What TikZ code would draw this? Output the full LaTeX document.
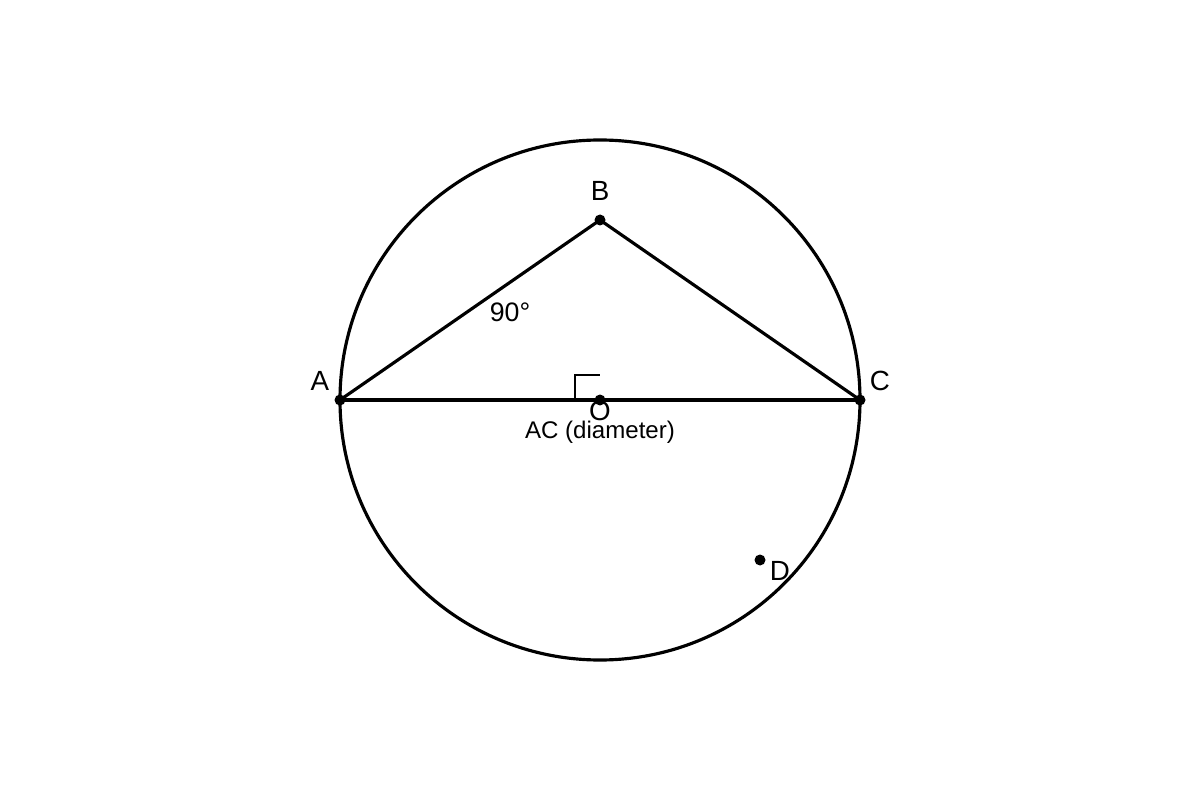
\documentclass[tikz,border=0pt]{standalone}
\usepackage{fontspec}
\setmainfont{Liberation Sans}
\begin{document}
\begin{tikzpicture}[x=0.02cm,y=-0.02cm,
  geo/.style={line width=1.8pt,black},
  thin/.style={line width=1pt,black},
  dot/.style={circle,fill=black,inner sep=0pt,minimum size=0.22cm},
  lbl/.style={font=\fontsize{15.8pt}{18pt}\selectfont,inner sep=0pt},
  nlbl/.style={font=\fontsize{15.2pt}{18pt}\selectfont,inner sep=0pt},
  slbl/.style={font=\fontsize{13.7pt}{16pt}\selectfont,inner sep=0pt}]
\useasboundingbox (0,0) rectangle (1200,800);
\coordinate (O) at (600,400);
\coordinate (A) at (340,400);
\coordinate (B) at (600,220);
\coordinate (C) at (860,400);
\coordinate (D) at (760,560);
\coordinate (R1) at (575,400);
\coordinate (R2) at (575,375);
\coordinate (R3) at (600,375);
\draw[geo] (O) circle[radius=260];
\draw[geo] (A) -- (C);
\draw[geo] (A) -- (B) -- (C);
\draw[thin] (R1) -- (R2) -- (R3);
\node[dot] (dA) at (A) {};
\node[dot] (dB) at (B) {};
\node[dot] (dC) at (C) {};
\node[dot] (dO) at (O) {};
\node[dot] (dD) at (D) {};
\node[lbl] (lA) at (320,381) {A};
\node[lbl] (lB) at (600,191) {B};
\node[lbl] (lC) at (880,381) {C};
\node[lbl] (lO) at (600,411) {O};
\node[lbl] (lD) at (780,571) {D};
\node[nlbl] (l90) at (510,312) {90°};
\node[slbl] (lAC) at (600,432) {AC (diameter)};
\end{tikzpicture}
\end{document}
